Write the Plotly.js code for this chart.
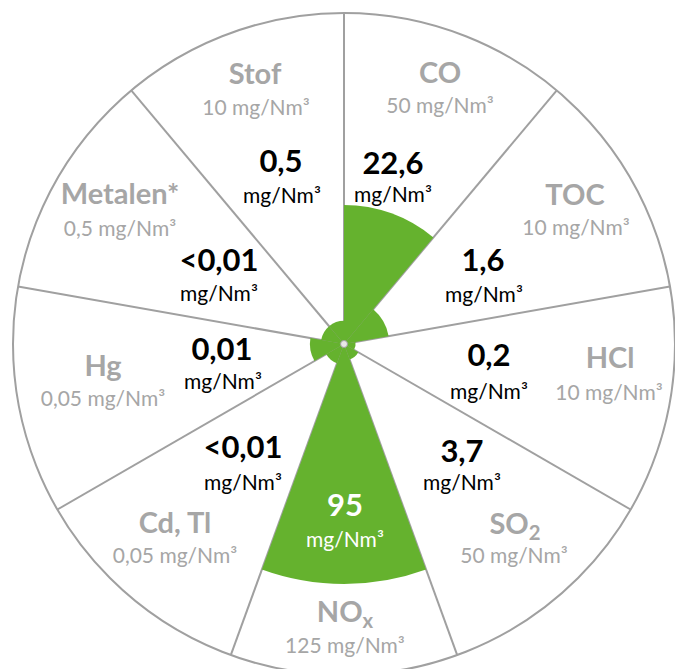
<!DOCTYPE html>
<html>
<head>
<meta charset="utf-8">
<script src="https://cdn.plot.ly/plotly-3.0.1.min.js"></script>
<style>
  html, body { margin: 0; padding: 0; background: #ffffff; overflow: hidden; }
  #chart { width: 675px; height: 675px; }
</style>
</head>
<body>
<div id="chart"></div>
<script>
// ---------- DATA ----------
const categories  = ['CO', 'TOC', 'HCl', 'SO<sub>2</sub>', 'NO<sub>x</sub>', 'Cd, Tl', 'Hg', 'Metalen*', 'Stof'];
const limitLabels = ['50 mg/Nm³', '10 mg/Nm³', '10 mg/Nm³', '50 mg/Nm³', '125 mg/Nm³', '0,05 mg/Nm³', '0,05 mg/Nm³', '0,5 mg/Nm³', '10 mg/Nm³'];
const valueLabels = ['22,6', '1,6', '0,2', '3,7', '95', '<0,01', '0,01', '<0,01', '0,5'];
const unitLabel   = 'mg/Nm³';
// green fill radius (fraction of the outer circle)
const fillLevel   = [0.42, 0.137, 0.035, 0.05, 0.725, 0.062, 0.103, 0.07, 0.07];

// ---------- LAYOUT HELPERS (positions, in px offsets from centre) ----------
const R = 331;
const SHIFT = -3; // vertical text baseline correction (px)
const namePos  = [[96,271],[231,149],[266,-14],[171,-180],[1,-268],[-169,-179],[-241,-22],[-224,150],[-89,270]];
const limitPos = [[96,239],[232,117],[265,-48],[170,-211],[1,-301],[-169,-211],[-241,-54],[-224,116],[-88,237]];
const valuePos = [[49,181],[139,84],[145,-11],[118,-107],[1,-161],[-101,-103],[-122,-5],[-125,84],[-63,183]];
const unitPos  = [[49,150],[140,50],[145,-47],[118,-138],[1,-195],[-101,-138],[-121,-37],[-125,51],[-62,149]];

function toPolar(list) {
  const pts = list.map(p => [p[0], p[1] + SHIFT]);
  return {
    r: pts.map(p => Math.sqrt(p[0]*p[0] + p[1]*p[1]) / R),
    theta: pts.map(p => { let a = Math.atan2(p[0], p[1]) * 180 / Math.PI; return a < 0 ? a + 360 : a; })
  };
}

const sectorWidth = 360 / categories.length;
const centres = categories.map((c, i) => i * sectorWidth + sectorWidth / 2);

const GREEN = '#65b22e';
const GREY_TXT = '#a6a6a6';
const LINE = '#a0a0a0';

const traces = [];
traces.push({
  type: 'barpolar',
  r: fillLevel,
  theta: centres,
  width: categories.map(() => sectorWidth),
  marker: { color: GREEN, line: { width: 0 } },
  hoverinfo: 'skip',
  showlegend: false
});

function textTrace(pos, texts, font) {
  const p = toPolar(pos);
  return {
    type: 'scatterpolar', mode: 'text',
    r: p.r, theta: p.theta, text: texts,
    textposition: 'middle center',
    textfont: font,
    hoverinfo: 'skip', showlegend: false, cliponaxis: false
  };
}

traces.push(textTrace(namePos, categories, { family: 'Lato', size: 29, color: GREY_TXT, weight: 700 }));
traces.push(textTrace(limitPos, limitLabels, { family: 'Lato', size: 21, color: GREY_TXT }));
traces.push(textTrace(valuePos, valueLabels, { family: 'Lato', size: 31, weight: 700,
  color: categories.map((c, i) => i === 4 ? '#ffffff' : '#000000') }));
traces.push(textTrace(unitPos, categories.map(() => unitLabel), { family: 'Lato', size: 21,
  color: categories.map((c, i) => i === 4 ? '#ffffff' : '#000000') }));

traces.push({
  type: 'scatterpolar', mode: 'markers',
  r: [0], theta: [0],
  marker: { size: 7, color: '#e8e8e8', line: { color: LINE, width: 1 } },
  hoverinfo: 'skip', showlegend: false
});

const layout = {
  width: 675, height: 675,
  margin: { l: 13, r: 0, t: 13, b: 0, pad: 0 },
  paper_bgcolor: '#ffffff',
  showlegend: false,
  font: { family: 'Lato' },
  polar: {
    domain: { x: [0, 1], y: [0, 1] },
    bgcolor: '#ffffff',
    bargap: 0,
    radialaxis: { visible: false, range: [0, 1] },
    angularaxis: {
      direction: 'clockwise', rotation: 90, thetaunit: 'degrees',
      tickmode: 'linear', tick0: 0, dtick: sectorWidth,
      showticklabels: false, ticks: '',
      showgrid: true, gridcolor: LINE, gridwidth: 2,
      showline: true, linecolor: LINE, linewidth: 2,
      layer: 'above traces'
    }
  }
};

Plotly.newPlot('chart', traces, layout, { displayModeBar: false, staticPlot: true });
</script>
</body>
</html>
